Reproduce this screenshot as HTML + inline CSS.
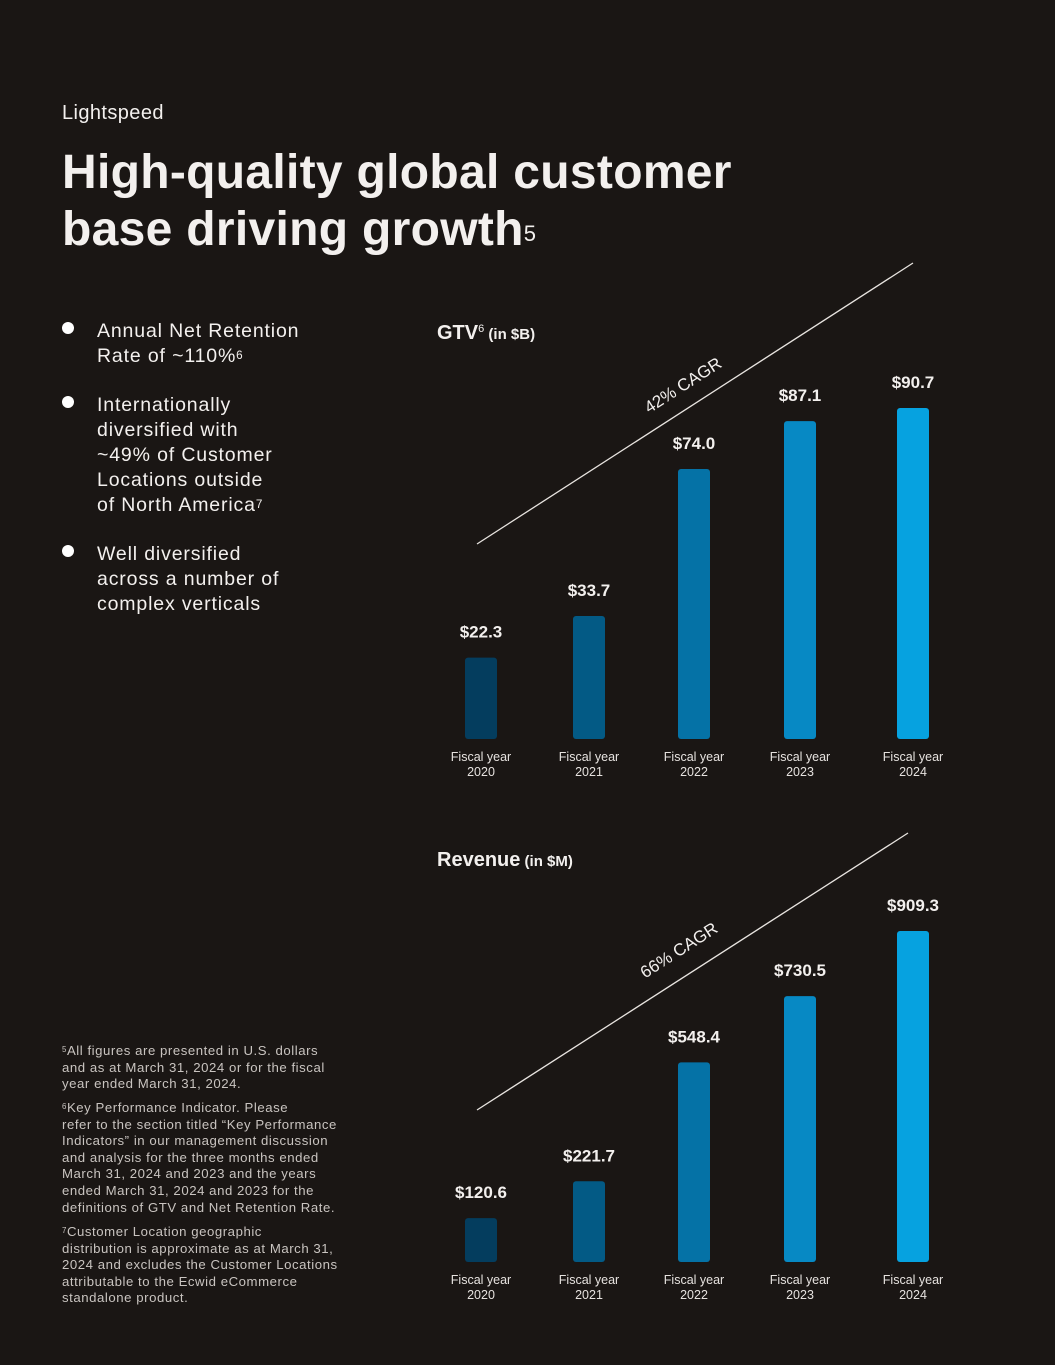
<!DOCTYPE html>
<html><head><meta charset="utf-8"><style>
html,body{margin:0;padding:0;background:#1a1614;}
body{width:1055px;height:1365px;position:relative;overflow:hidden;font-family:"Liberation Sans",sans-serif;color:#f3f0ee;}
.abs{position:absolute;}
sup{font-size:0.6em;vertical-align:top;position:relative;top:-0.1em;}
.bul{left:62px;font-size:19.5px;line-height:25px;letter-spacing:0.85px;white-space:nowrap;}
.bul:before{content:"";position:absolute;left:0;top:3px;width:12px;height:12px;border-radius:50%;background:#fff;}
.bul span{display:block;margin-left:35px;}
.fn{left:62px;font-size:13.2px;line-height:16.6px;color:#c9c4c0;letter-spacing:0.55px;white-space:nowrap;}
</style></head><body>
<div class="abs" style="left:62px;top:102px;font-size:20px;letter-spacing:0.4px;">Lightspeed</div>
<div class="abs" style="left:62px;top:144px;font-size:48px;font-weight:bold;line-height:57px;letter-spacing:0.3px;white-space:nowrap;">High-quality global customer<br>base driving growth<sup style="font-weight:normal;font-size:22px;top:0.2em;">5</sup></div>

<div class="abs bul" style="top:319px;"><span>Annual Net Retention<br>Rate of ~110%<sup>6</sup></span></div>
<div class="abs bul" style="top:393px;"><span>Internationally<br>diversified with<br>~49% of Customer<br>Locations outside<br>of North America<sup>7</sup></span></div>
<div class="abs bul" style="top:542px;"><span>Well diversified<br>across a number of<br>complex verticals</span></div>

<div class="abs fn" style="top:1043px;"><sup>5</sup>All figures are presented in U.S. dollars<br>and as at March 31, 2024 or for the fiscal<br>year ended March 31, 2024.</div>
<div class="abs fn" style="top:1100px;"><sup>6</sup>Key Performance Indicator. Please<br>refer to the section titled “Key Performance<br>Indicators” in our management discussion<br>and analysis for the three months ended<br>March 31, 2024 and 2023 and the years<br>ended March 31, 2024 and 2023 for the<br>definitions of GTV and Net Retention Rate.</div>
<div class="abs fn" style="top:1224px;"><sup>7</sup>Customer Location geographic<br>distribution is approximate as at March 31,<br>2024 and excludes the Customer Locations<br>attributable to the Ecwid eCommerce<br>standalone product.</div>

<svg id="chart" class="abs" style="left:0;top:0" width="1055" height="1365">
<text x="437" y="339" font-size="20" font-weight="bold" fill="#f3f0ee">GTV<tspan font-size="11" dy="-7" font-weight="normal">6</tspan><tspan font-size="15" dy="7"> (in $B)</tspan></text>
<text x="437" y="866" font-size="20" font-weight="bold" fill="#f3f0ee">Revenue<tspan font-size="15"> (in $M)</tspan></text>
</svg>
<script>
const categories=["2020","2021","2022","2023","2024"];
const gtvValues=[22.3,33.7,74.0,87.1,90.7];
const gtvLabels=["$22.3","$33.7","$74.0","$87.1","$90.7"];
const revValues=[120.6,221.7,548.4,730.5,909.3];
const revLabels=["$120.6","$221.7","$548.4","$730.5","$909.3"];
const colors=["#043d5e","#035a85","#0572a6","#0789c4","#06a2e0"];
const centers=[481,589,694,800,913];
const svg=document.getElementById('chart');
const NS="http://www.w3.org/2000/svg";
function mk(t,a){const e=document.createElementNS(NS,t);for(const k in a)e.setAttribute(k,a[k]);svg.appendChild(e);return e;}
function drawChart(prefix,vals,labels,base,maxV,maxH,line,cagr){
  const y=v=>base-v/maxV*maxH;
  vals.forEach((v,i)=>{
    const r=mk('rect',{x:centers[i]-16,y:y(v),width:32,height:base-y(v),rx:3,fill:colors[i]});
    
    
    const t=mk('text',{x:centers[i],y:y(v)-20,'text-anchor':'middle','font-size':17,'font-weight':'bold',fill:'#f3f0ee'});
    t.textContent=labels[i];
    
    
    const c=mk('text',{x:centers[i],y:base+22,'text-anchor':'middle','font-size':12.5,fill:'#e6e2df'});
    c.innerHTML='<tspan x="'+centers[i]+'">Fiscal year</tspan><tspan x="'+centers[i]+'" dy="15">'+categories[i]+'</tspan>';
    
    
  });
  const l=mk('line',{x1:line[0],y1:line[1],x2:line[2],y2:line[3],stroke:'#e8e4e0','stroke-width':1.3});
  
  
  const ang=Math.atan2(line[3]-line[1],line[2]-line[0])*180/Math.PI;
  const tx=cagr[1],ty=cagr[2];
  const ct=mk('text',{x:tx,y:ty,'text-anchor':'middle','font-size':17,fill:'#f3f0ee',transform:'rotate('+ang+' '+tx+' '+ty+')'});
  ct.textContent=cagr[0];
  
  
}
drawChart('gtv',gtvValues,gtvLabels,739,90.7,331,[477,544,913,263],['42% CAGR',686,390]);
drawChart('revenue',revValues,revLabels,1262,909.3,331,[477,1110,908,833],['66% CAGR',682,955]);
</script>
</body></html>
